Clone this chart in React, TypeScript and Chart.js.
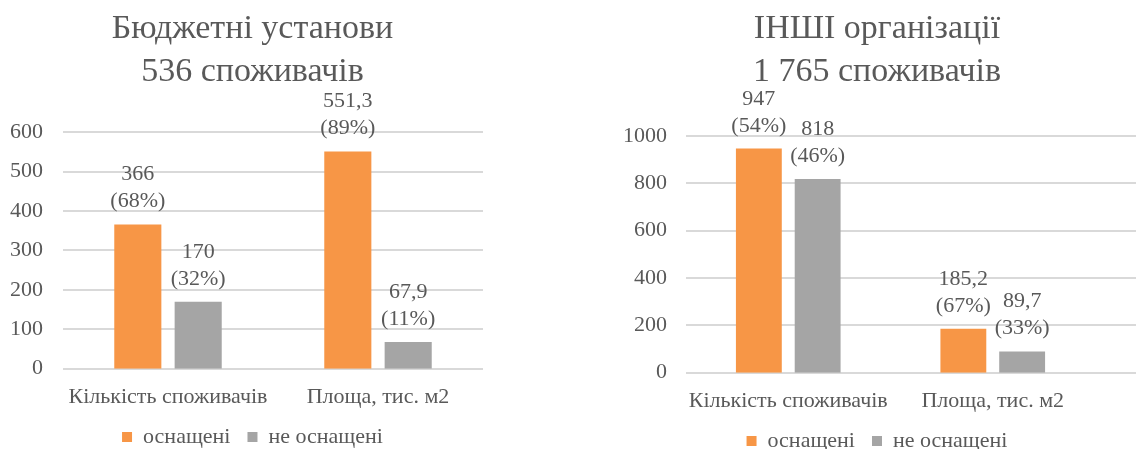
import React, { useEffect, useRef } from "react";
import { Chart, registerables } from "chart.js";

Chart.register(...registerables);

const categories = ["Кількість споживачів", "Площа, тис. м2"];
const seriesNames = ["оснащені", "не оснащені"];

const leftTitle = ["Бюджетні установи", "536 споживачів"];
const leftEquipped = [366, 551.3];
const leftNotEquipped = [170, 67.9];
const leftEquippedPct = [68, 89];
const leftNotEquippedPct = [32, 11];
const leftMax = 600;
const leftStep = 100;

const rightTitle = ["ІНШІ організації", "1 765 споживачів"];
const rightEquipped = [947, 185.2];
const rightNotEquipped = [818, 89.7];
const rightEquippedPct = [54, 67];
const rightNotEquippedPct = [46, 33];
const rightMax = 1000;
const rightStep = 200;

const ORANGE = "#F79646";
const GRAY = "#A5A5A5";
const TEXT = "#595959";
const GRID = "#D9D9D9";
const FONT = "'Liberation Serif', 'Times New Roman', serif";

const fmt = (v: number) => String(v).replace(".", ",");

const gridPlugin = {
  id: "customGrid",
  beforeDatasetsDraw(chart: any, _args: any, opts: any) {
    const { ctx, chartArea } = chart;
    const y = chart.scales.y;
    const right = chartArea.right + (opts.extendRight || 0);
    ctx.save();
    ctx.strokeStyle = GRID;
    ctx.lineWidth = 2;
    y.ticks.forEach((t: any) => {
      const py = Math.round(y.getPixelForValue(t.value));
      ctx.beginPath();
      ctx.moveTo(chartArea.left, py);
      ctx.lineTo(right, py);
      ctx.stroke();
    });
    ctx.restore();
  },
};

const labelPlugin = {
  id: "twoLineLabels",
  afterDatasetsDraw(chart: any, _args: any, opts: any) {
    const { ctx } = chart;
    ctx.save();
    ctx.fillStyle = TEXT;
    ctx.font = `22px ${FONT}`;
    ctx.textAlign = "center";
    ctx.textBaseline = "alphabetic";
    chart.data.datasets.forEach((ds: any, di: number) => {
      const meta = chart.getDatasetMeta(di);
      const pcts = opts.pcts[di];
      meta.data.forEach((el: any, i: number) => {
        const v = ds.data[i];
        ctx.fillText(fmt(v), el.x, el.y - 44);
        ctx.fillText(`(${pcts[i]}%)`, el.x, el.y - 17);
      });
    });
    ctx.restore();
  },
};

type Cfg = {
  title: string[];
  equipped: number[];
  notEquipped: number[];
  pcts: number[][];
  max: number;
  step: number;
  axisW: number;
  axisPad: number;
  spacerW: number;
  titleBottom: number;
  extendRight: number;
};

function BarChart({ cfg, left, width, height }: { cfg: Cfg; left: number; width: number; height: number }) {
  const ref = useRef<HTMLCanvasElement>(null);
  useEffect(() => {
    if (!ref.current) return;
    const chart = new Chart(ref.current, {
      type: "bar",
      data: {
        labels: categories,
        datasets: [
          {
            label: seriesNames[0],
            data: cfg.equipped,
            backgroundColor: ORANGE,
            categoryPercentage: 0.575,
            barPercentage: 0.78,
          },
          {
            label: seriesNames[1],
            data: cfg.notEquipped,
            backgroundColor: GRAY,
            categoryPercentage: 0.575,
            barPercentage: 0.78,
          },
        ],
      },
      options: {
        animation: false,
        responsive: false,
        devicePixelRatio: 1,
        events: [],
        layout: { padding: 0 },
        scales: {
          x: {
            grid: { display: false, drawTicks: true, tickLength: 16.3 },
            border: { display: false },
            ticks: {
              color: TEXT,
              font: { family: FONT, size: 22, lineHeight: 24 / 22 },
              padding: 0,
              maxRotation: 0,
            },
          },
          y: {
            min: 0,
            max: cfg.max,
            grid: { display: false, drawTicks: false },
            border: { display: false },
            ticks: {
              stepSize: cfg.step,
              color: TEXT,
              font: { family: FONT, size: 22 },
              padding: cfg.axisPad,
              callback: (v: any) => String(v),
            },
            afterFit: (s: any) => {
              s.width = cfg.axisW;
            },
          },
          spacer: {
            type: "linear",
            position: "right",
            display: true,
            grid: { display: false, drawTicks: false },
            border: { display: false },
            ticks: { display: false },
            afterFit: (s: any) => {
              s.width = cfg.spacerW;
            },
          },
        },
        plugins: {
          tooltip: { enabled: false },
          title: {
            display: true,
            text: cfg.title,
            color: TEXT,
            font: { family: FONT, size: 34, weight: "normal", lineHeight: 1.276 },
            padding: { top: 7, bottom: cfg.titleBottom },
          },
          legend: {
            display: true,
            position: "bottom",
            labels: {
              color: TEXT,
              font: { family: FONT, size: 22 },
              boxWidth: 10,
              boxHeight: 10,
              padding: 17,
            },
          },
          customGrid: { extendRight: cfg.extendRight },
          twoLineLabels: { pcts: cfg.pcts },
        } as any,
      } as any,
      plugins: [gridPlugin, labelPlugin],
    });
    return () => chart.destroy();
  }, []);
  return (
    <canvas
      ref={ref}
      width={width}
      height={height}
      style={{ position: "absolute", left, top: 0, width, height }}
    />
  );
}

const leftCfg: Cfg = {
  title: leftTitle,
  equipped: leftEquipped,
  notEquipped: leftNotEquipped,
  pcts: [leftEquippedPct, leftNotEquippedPct],
  max: leftMax,
  step: leftStep,
  axisW: 63,
  axisPad: 20,
  spacerW: 22,
  titleBottom: 38.5,
  extendRight: 0,
};

const rightCfg: Cfg = {
  title: rightTitle,
  equipped: rightEquipped,
  notEquipped: rightNotEquipped,
  pcts: [rightEquippedPct, rightNotEquippedPct],
  max: rightMax,
  step: rightStep,
  axisW: 126,
  axisPad: 19,
  spacerW: 99,
  titleBottom: 42.2,
  extendRight: 41,
};

export default function App() {
  return (
    <div
      style={{
        position: "absolute",
        left: 0,
        top: 0,
        width: 1136,
        height: 449,
        overflow: "hidden",
        background: "#fff",
      }}
    >
      <BarChart cfg={leftCfg} left={0} width={505} height={458} />
      <BarChart cfg={rightCfg} left={560} width={634} height={462} />
    </div>
  );
}
